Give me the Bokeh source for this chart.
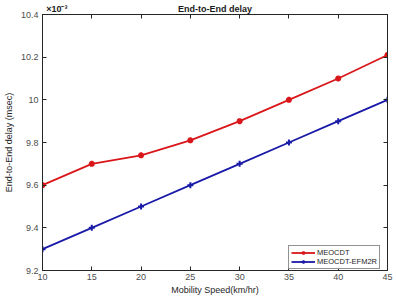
from bokeh.plotting import figure
from bokeh.models import Range1d, LinearAxis, FixedTicker, Legend, LegendItem
from bokeh.embed import file_html
from bokeh.resources import INLINE

speed = [10, 15, 20, 25, 30, 35, 40, 45]
meocdt = [9.60, 9.70, 9.74, 9.81, 9.90, 10.00, 10.10, 10.21]
efm2r = [9.30, 9.40, 9.50, 9.60, 9.70, 9.80, 9.90, 10.00]
xticks = [10, 15, 20, 25, 30, 35, 40, 45]
yticks = [9.2, 9.4, 9.6, 9.8, 10.0, 10.2, 10.4]
title_text = "End-to-End delay"
exp_text = "×10⁻³"

p = figure(width=396, height=298, output_backend="svg", toolbar_location=None,
           x_range=Range1d(10, 45), y_range=Range1d(9.2, 10.4),
           min_border_left=37, min_border_right=9, min_border_top=0, min_border_bottom=28)
p.background_fill_color = "white"
p.border_fill_color = "white"
p.outline_line_color = "#262626"
p.outline_line_width = 1
p.grid.visible = False

FONT = "Liberation Sans"
GREY = "#4d4d4d"

def style(ax):
    ax.major_tick_in = 4
    ax.major_tick_out = 0
    ax.minor_tick_in = 0
    ax.minor_tick_out = 0
    ax.axis_line_color = "#262626"
    ax.major_tick_line_color = "#262626"
    ax.major_label_text_font = FONT
    ax.major_label_text_font_size = "9px"
    ax.major_label_text_color = GREY
    ax.axis_label_text_font = FONT
    ax.axis_label_text_font_size = "9px"
    ax.axis_label_text_font_style = "normal"
    ax.axis_label_text_color = "#262626"

p.xaxis.ticker = FixedTicker(ticks=xticks)
p.yaxis.ticker = FixedTicker(ticks=yticks)
p.yaxis.major_label_overrides = {v: ("10" if v == 10.0 else str(v)) for v in yticks}
p.xaxis.axis_label = "Mobility Speed(km/hr)"
p.yaxis.axis_label = "End-to-End delay (msec)"
p.xaxis.major_label_standoff = 3
p.yaxis.major_label_standoff = 4
p.xaxis.axis_label_standoff = 2
p.yaxis.axis_label_standoff = 4
style(p.xaxis[0])
style(p.yaxis[0])

# top axis with inward ticks (box), no labels
top = LinearAxis(ticker=FixedTicker(ticks=xticks),
                 major_label_overrides={v: "" for v in xticks})
style(top)
top.major_label_standoff = 0
p.add_layout(top, "above")

# title row: exponent note and title drawn as labels of a tick-less axis
title_axis = LinearAxis(ticker=FixedTicker(ticks=[11.45, 27.5]),
                        major_label_overrides={11.45: exp_text, 27.5: title_text})
title_axis.axis_line_color = None
title_axis.major_tick_line_color = None
title_axis.major_tick_in = 0
title_axis.major_tick_out = 0
title_axis.minor_tick_line_color = None
title_axis.major_label_standoff = 1
title_axis.major_label_text_font = FONT
title_axis.major_label_text_font_size = "9px"
title_axis.major_label_text_font_style = "bold"
title_axis.major_label_text_color = "#1a1a1a"
p.add_layout(title_axis, "above")

right = LinearAxis(ticker=FixedTicker(ticks=yticks),
                   major_label_overrides={v: "" for v in yticks})
style(right)
right.major_label_standoff = 0
p.add_layout(right, "right")

red = "#d9161a"
blue = "#1a1aa8"
r1 = p.line(speed, meocdt, line_color=red, line_width=1.8)
m1 = p.scatter(speed, meocdt, marker="asterisk", size=6, line_color=red, line_width=2)
r2 = p.line(speed, efm2r, line_color=blue, line_width=1.8)
m2 = p.scatter(speed, efm2r, marker="cross", size=6, line_color=blue, line_width=2)

legend = Legend(items=[LegendItem(label="MEOCDT", renderers=[r1, m1]),
                       LegendItem(label="MEOCDT-EFM2R", renderers=[r2, m2])],
                location=(246, 1))
legend.label_text_font = FONT
legend.label_text_font_size = "7.5px"
legend.label_text_color = "#262626"
legend.label_height = 9
legend.glyph_height = 9
legend.glyph_width = 24
legend.spacing = 0
legend.padding = 2
legend.margin = 0
legend.border_line_color = "#262626"
legend.label_standoff = 2
p.add_layout(legend)

open("out.html", "w").write(file_html(p, INLINE))
